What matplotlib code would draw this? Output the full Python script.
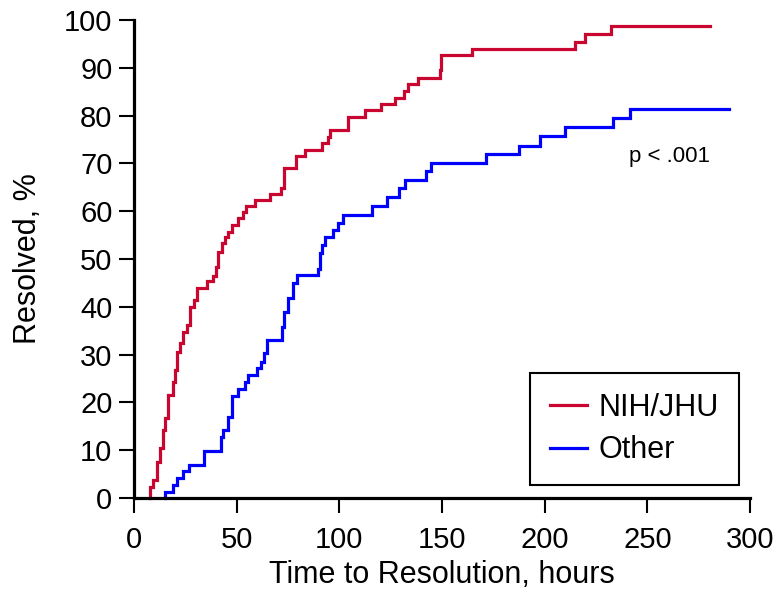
import numpy as np
import matplotlib
matplotlib.use("Agg")
import matplotlib.pyplot as plt

plt.rcParams['font.family'] = ['Liberation Sans', 'DejaVu Sans']

# NIH/JHU: event times (hours) and cumulative resolved %
nih_times = [7.8, 9.4, 11.4, 12.7, 14.0, 15.1, 16.7, 19.1, 20.0, 21.1, 22.4, 24.0,
             26.0, 27.3, 29.4, 30.8, 35.4, 38.6, 39.9, 41.0, 42.7, 44.3, 45.9, 47.5,
             50.8, 52.9, 54.5, 58.9, 66.2, 71.5, 73.0, 78.7, 83.2, 91.8, 94.6, 95.4,
             104.0, 112.4, 120.2, 127.3, 131.5, 133.2, 138.4, 148.9, 149.4, 164.8,
             214.6, 219.8, 232.4]
nih_pct = [2.4, 3.8, 7.6, 10.4, 14.2, 16.7, 21.5, 24.3, 26.8, 30.6, 32.4, 34.8,
           36.2, 40.0, 41.4, 43.9, 45.3, 46.4, 48.4, 51.5, 53.3, 54.7, 55.7, 57.1,
           58.5, 59.9, 61.1, 62.3, 63.7, 64.8, 69.0, 71.5, 72.8, 74.2, 75.6, 77.0,
           79.8, 81.2, 82.4, 83.7, 85.1, 86.6, 87.8, 89.5, 92.7, 93.9,
           95.5, 97.1, 98.7]
nih_end = 280.3

# Other
oth_times = [15.1, 19.1, 20.8, 23.7, 26.8, 34.1, 42.2, 43.5, 45.9, 47.5, 50.5, 54.0,
             55.6, 59.7, 61.8, 63.4, 64.6, 72.2, 73.1, 75.1, 77.5, 79.6, 89.7, 90.8,
             91.8, 92.9, 96.7, 99.4, 101.9, 115.7, 123.0, 129.1, 131.9, 142.4, 144.4,
             171.6, 187.7, 197.6, 210.0, 233.2, 241.8]
oth_pct = [1.3, 2.7, 4.1, 5.7, 7.0, 9.8, 12.8, 14.2, 17.0, 21.4, 22.8, 24.3,
           25.7, 27.1, 28.5, 30.3, 33.0, 35.8, 39.0, 41.8, 44.9, 46.7, 48.0, 51.2,
           52.9, 54.5, 56.0, 57.6, 59.3, 61.1, 63.0, 64.8, 66.5, 68.4, 70.0,
           71.9, 73.7, 75.7, 77.7, 79.4, 81.4]
oth_end = 290.0

labels = ['NIH/JHU', 'Other']
colors = ['#C8062F', '#0000FF']
xticks = [0, 50, 100, 150, 200, 250, 300]
yticks = list(range(0, 101, 10))

fig = plt.figure(figsize=(7.83, 5.93), dpi=100)
ax = fig.add_axes([134/783, 95/593, 616/783, 478/593])

def curve(times, pct, end):
    x = np.r_[times[0], times, end]
    y = np.r_[0, pct, pct[-1]]
    return x, y

for (t, p, e), lab, c in zip([(nih_times, nih_pct, nih_end), (oth_times, oth_pct, oth_end)],
                             labels, colors):
    x, y = curve(t, p, e)
    ax.plot(x, y, drawstyle='steps-post', color=c, lw=2.3, label=lab, clip_on=False,
            solid_joinstyle='miter')

ax.set_xlim(0, 300)
ax.set_ylim(0, 100)
ax.set_xticks(xticks)
ax.set_yticks(yticks)
for s in ['top', 'right']:
    ax.spines[s].set_visible(False)
for s in ['left', 'bottom']:
    ax.spines[s].set_linewidth(2.3)
ax.tick_params(direction='out', length=10.5, width=1.5, labelsize=21, pad=5)
ax.tick_params(axis='x', pad=10)

ax.set_xlabel('Time to Resolution, hours', fontsize=22, labelpad=4)
ax.set_ylabel('Resolved, %', fontsize=22, labelpad=15)

ax.text(241, 70.3, 'p < .001', fontsize=16, ha='left', va='baseline')

leg = ax.legend(loc='lower left', bbox_to_anchor=(0.643, 0.027), fontsize=22,
                frameon=True, fancybox=False, edgecolor='black', framealpha=1,
                handlelength=1.2, handletextpad=0.4, labelspacing=0.4,
                borderpad=0.65, borderaxespad=0)
leg.get_frame().set_linewidth(1.5)
for line in leg.get_lines():
    line.set_linewidth(2.3)

fig.savefig('out.png', dpi=100)
